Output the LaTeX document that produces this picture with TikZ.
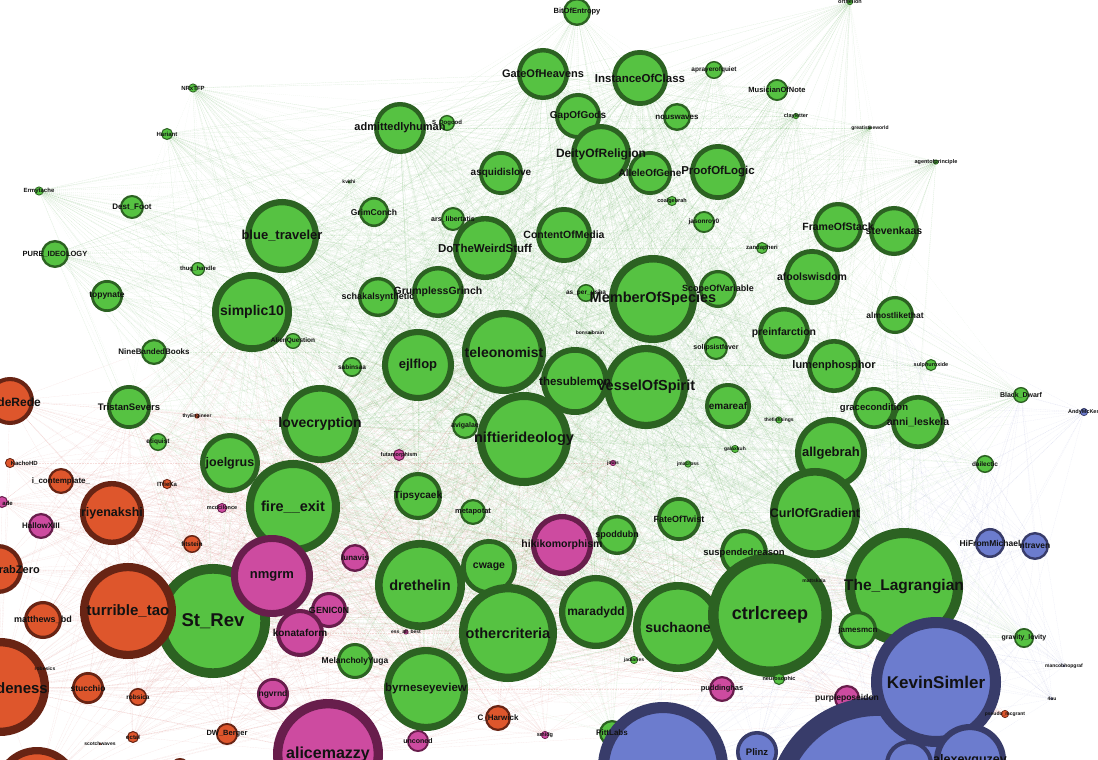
\documentclass[tikz,border=0pt]{standalone}
\usepackage{fontspec}
\setmainfont{Liberation Sans}
\pgfdeclarelayer{bg}\pgfdeclarelayer{fg}\pgfsetlayers{bg,main,fg}
\definecolor{gF}{RGB}{86,194,66}\definecolor{gB}{RGB}{44,98,34}
\definecolor{oF}{RGB}{222,86,44}\definecolor{oB}{RGB}{104,36,20}
\definecolor{pF}{RGB}{205,75,160}\definecolor{pB}{RGB}{104,30,76}
\definecolor{bF}{RGB}{108,124,206}\definecolor{bB}{RGB}{56,60,106}
\definecolor{gE}{RGB}{60,160,50}\definecolor{rE}{RGB}{200,50,40}\definecolor{bE}{RGB}{80,90,190}
\definecolor{txt}{RGB}{18,18,18}
\tikzset{
 base/.style={circle, inner sep=0pt, outer sep=0pt},
 gn/.style={base, draw=gB, fill=gF},
 on/.style={base, draw=oB, fill=oF},
 pn/.style={base, draw=pB, fill=pF},
 bn/.style={base, draw=bB, fill=bF},
 lab/.style={inner sep=0pt, text=txt},
 eg/.style={draw=gE, line width=0.2pt, draw opacity=0.14, dash pattern=on 1pt off 0.6pt},
 ef/.style={draw=gE, line width=0.2pt, draw opacity=0.1, dash pattern=on 1pt off 1pt},
 er/.style={draw=rE, line width=0.2pt, draw opacity=0.16, dash pattern=on 1pt off 0.6pt},
 eb/.style={draw=bE, line width=0.2pt, draw opacity=0.14, dash pattern=on 1pt off 0.8pt},
}
\newcommand\mkn[7]{%
 \pgfmathsetmacro\mklw{max(0.7,0.085*#5)}%
 \pgfmathsetmacro\mkms{max(1,#5-\mklw)}%
 \node[#1, line width=\mklw pt, minimum size=\mkms pt] (#2) at (#3,#4) {};%
 \begin{pgfonlayer}{fg}\node[lab, font=\bfseries\fontsize{#6}{#6}\selectfont] (#2-t) at (#2.center) {#7};\end{pgfonlayer}}
\newcommand\mknx[9]{%
 \pgfmathsetmacro\mklw{max(0.7,0.085*#5)}%
 \pgfmathsetmacro\mkms{max(1,#5-\mklw)}%
 \node[#1, line width=\mklw pt, minimum size=\mkms pt] (#2) at (#3,#4) {};%
 \begin{pgfonlayer}{fg}\node[lab, anchor=east, font=\bfseries\fontsize{#6}{#6}\selectfont] (#2-t) at (#8,#9) {#7};\end{pgfonlayer}}
\begin{document}
\begin{tikzpicture}[x=1pt,y=-1pt]
\useasboundingbox (0,0) rectangle (1098,760);
\begin{pgfonlayer}{bg}\fill[white] (0,0) rectangle (1098,760);\end{pgfonlayer}
% ---------- green ----------
\mkn{gn}{bit}{577}{12}{28}{7.5}{BitOfEntropy}
\mkn{gn}{orth}{850}{2}{6}{5.5}{orthelion}
\mkn{gn}{gate}{543}{74}{52}{11}{GateOfHeavens}
\mkn{gn}{inst}{640}{78}{56}{11.5}{InstanceOfClass}
\mkn{gn}{apray}{714}{70}{18}{6.5}{aprayerofquiet}
\mkn{gn}{music}{777}{90}{22}{7.5}{MusicianOfNote}
\mkn{gn}{clay}{796}{116}{6}{5.5}{clayletter}
\mkn{gn}{great}{870}{128}{3}{5}{greatistheworld}
\mkn{gn}{agent}{936}{162}{5}{5.5}{agentofprinciple}
\mkn{gn}{nrx}{193}{88}{9}{6}{NRxTFP}
\mkn{gn}{hari}{167}{134}{12}{6}{Hariant}
\mkn{gn}{ermy}{39}{191}{9}{6}{Ermytache}
\mkn{gn}{dest}{132}{207}{24}{8}{Dest\_Foot}
\mkn{gn}{pure}{55}{254}{28}{7.5}{PURE\_IDEOLOGY}
\mkn{gn}{admit}{400}{128}{52}{11}{admittedlyhuman}
\mkn{gn}{sdog}{447}{123}{16}{6}{S\_Dogood}
\mkn{gn}{kvit}{349}{182}{3}{5}{kvithi}
\mkn{gn}{grim}{374}{212}{30}{8.5}{GrimConch}
\mkn{gn}{ars}{453}{219}{24}{7}{ars\_libertatis}
\mkn{gn}{blue}{282}{236}{74}{13}{blue\_traveler}
\mkn{gn}{squid}{501}{173}{44}{10}{asquidislove}
\mkn{gn}{gap}{578}{116}{46}{10}{GapOfGods}
\mkn{gn}{nous}{677}{117}{28}{8}{nouswaves}
\mkn{gn}{deity}{601}{154}{60}{12}{DeityOfReligion}
\mkn{gn}{allele}{650}{173}{44}{10}{AlleleOfGene}
\mkn{gn}{proof}{718}{172}{56}{11.5}{ProofOfLogic}
\mkn{gn}{coal}{672}{201}{10}{5.5}{coalgebrah}
\mkn{gn}{jason}{704}{222}{22}{6.5}{jasonroy0}
\mkn{gn}{content}{564}{235}{56}{10.5}{ContentOfMedia}
\mkn{gn}{weird}{485}{248}{64}{11.5}{DoTheWeirdStuff}
\mkn{gn}{frame}{838}{227}{50}{10.5}{FrameOfStack}
\mkn{gn}{steven}{894}{231}{50}{10.5}{stevenkaas}
\mkn{gn}{zand}{762}{248}{12}{6}{zandapheri}
\mkn{gn}{afool}{812}{277}{56}{10.5}{afoolswisdom}
\mkn{gn}{thug}{198}{269}{14}{6}{thug\_handle}
\mkn{gn}{topy}{107}{296}{32}{8.5}{topynate}
\mkn{gn}{simp}{252}{312}{80}{14}{simplic10}
\mkn{gn}{alien}{293}{341}{16}{6.5}{AlienQuestion}
\mkn{gn}{schak}{378}{297}{40}{9}{schakalsynthetic}
\mkn{gn}{grump}{438}{292}{52}{10.5}{GrumplessGrinch}
\mkn{gn}{asper}{586}{293}{18}{6.5}{as\_per\_usha}
\mkn{gn}{member}{653}{299}{88}{14.5}{MemberOfSpecies}
\mkn{gn}{scope}{718}{289}{38}{9}{ScopeOfVariable}
\mkn{gn}{bonsai}{590}{333}{3}{5}{bonsaibrain}
\mkn{gn}{solip}{716}{348}{24}{7}{solipsistfever}
\mkn{gn}{nine}{154}{352}{26}{8}{NineBandedBooks}
\mkn{gn}{sabin}{352}{367}{20}{6.5}{sabinsaa}
\mkn{gn}{ejl}{418}{365}{72}{13}{ejlflop}
\mkn{gn}{tele}{504}{352}{84}{14}{teleonomist}
\mkn{gn}{subl}{575}{381}{68}{11.5}{thesublemon}
\mkn{gn}{vessel}{646}{387}{84}{14.5}{VesselOfSpirit}
\mkn{gn}{prein}{784}{333}{52}{10.5}{preinfarction}
\mkn{gn}{almost}{895}{315}{38}{8.5}{almostlikethat}
\mkn{gn}{lumen}{834}{366}{54}{11}{lumenphosphor}
\mkn{gn}{sulph}{931}{365}{12}{5.5}{sulphuroxide}
\mkn{gn}{emar}{728}{406}{46}{10}{emareaf}
\mkn{gn}{black}{1021}{395}{16}{7}{Black\_Dwarf}
\mkn{gn}{grace}{874}{408}{42}{9.5}{gracecondition}
\mkn{gn}{anni}{918}{422}{54}{10.5}{anni\_leskela}
\mkn{gn}{thefat}{779}{420}{7}{5}{thefishsings}
\mkn{gn}{galax}{735}{449}{8}{5}{galaxkuh}
\mkn{gn}{allg}{831}{453}{72}{13}{allgebrah}
\mkn{gn}{dial}{985}{464}{18}{6.5}{dailectic}
\mkn{gn}{tristan}{129}{407}{44}{9.5}{TristanSevers}
\mkn{gn}{etiq}{158}{442}{18}{6.5}{etiquist}
\mkn{gn}{love}{320}{424}{78}{14}{lovecryption}
\mkn{gn}{joel}{230}{463}{60}{12.5}{joelgrus}
\mkn{gn}{aviga}{465}{426}{26}{7}{avigalae}
\mkn{gn}{nifty}{524}{439}{94}{14.5}{niftierideology}
\mkn{gn}{jmac}{688}{464}{7}{5}{jmacross}
\mkn{gn}{fire}{293}{507}{94}{14.5}{fire\_\_exit}
\mkn{gn}{tipsy}{418}{496}{48}{10}{Tipsycaek}
\mkn{gn}{meta}{473}{512}{26}{7.5}{metapotat}
\mkn{gn}{fate}{679}{519}{44}{9}{FateOfTwist}
\mkn{gn}{spod}{617}{535}{40}{9}{spoddubn}
\mkn{gn}{curl}{815}{513}{90}{12.5}{CurlOfGradient}
\mkn{gn}{susp}{744}{553}{48}{9.5}{suspendedreason}
\mkn{gn}{lagr}{904}{587}{118}{15.5}{The\_Lagrangian}
\mkn{gn}{strev}{213}{621}{114}{18.5}{St\_Rev}
\mkn{gn}{melan}{355}{661}{36}{8.5}{MelancholyYuga}
\mkn{gn}{dreth}{420}{585}{90}{14.5}{drethelin}
\mkn{gn}{cwage}{489}{567}{56}{10.5}{cwage}
\mkn{gn}{other}{508}{633}{98}{14.5}{othercriteria}
\mkn{gn}{mara}{596}{612}{74}{12}{maradydd}
\mkn{gn}{such}{678}{627}{90}{14}{suchaone}
\mkn{gn}{ctrl}{770}{615}{124}{18}{ctrlcreep}
\mkn{gn}{matt}{814}{581}{3}{5}{mattskala}
\mkn{gn}{james}{858}{630}{38}{8}{jamesmcn}
\mkn{gn}{grav}{1024}{638}{20}{7}{gravity\_levity}
\mkn{gn}{neuro}{779}{679}{12}{5.5}{neurosophic}
\mkn{gn}{jadi}{634}{660}{8}{5}{jadiaries}
\mkn{gn}{byrne}{426}{689}{84}{11.5}{byrneseyeview}
\mkn{gn}{pitt}{612}{733}{26}{8}{PittLabs}
% ---------- orange ----------
\mknx{on}{rede}{10}{401}{48}{12}{adeRede}{41}{402}
\mknx{on}{kacho}{10}{463}{10}{6}{KachoHD}{38}{463}
\mkn{on}{icont}{61}{481}{26}{8}{i\_contemplate\_}
\mkn{on}{itfie}{167}{484}{10}{6}{ITfieKa}
\mkn{on}{thyeng}{197}{416}{5}{5}{thyEngineer}
\mkn{on}{riyen}{112}{513}{64}{12.5}{riyenakshi}
\mkn{on}{fitst}{192}{544}{18}{6.5}{fitstein}
\mknx{on}{crab}{-2}{569}{50}{11}{crabZero}{40}{570}
\mkn{on}{turr}{128}{611}{96}{15}{turrible\_tao}
\mkn{on}{matth}{43}{620}{38}{9}{matthews\_bd}
\mknx{on}{denes}{0}{687}{98}{15}{deness}{48}{688}
\mkn{on}{stuc}{88}{688}{32}{8.5}{stucchio}
\mkn{on}{robs}{138}{697}{18}{6.5}{robsica}
\mkn{on}{robes}{45}{669}{2}{5}{robesics}
\mkn{on}{octal}{133}{737}{12}{6}{octal}
\mkn{on}{scotch}{100}{744}{2}{5}{scotchwaves}
\mkn{on}{dwb}{227}{734}{22}{7.5}{DW\_Berger}
\mkn{on}{charw}{498}{718}{26}{8}{C\_Harwick}
\mkn{on}{pseud}{1005}{714}{8}{5}{pseudo\_mcgrant}
\mkn{on}{blo}{37}{790}{86}{12}{}
\mkn{on}{blo2}{180}{768}{20}{6}{}
% ---------- pink ----------
\mkn{pn}{hallow}{41}{526}{26}{8}{HallowXIII}
\mknx{pn}{padE}{2}{502}{12}{6}{ade}{13}{503}
\mkn{pn}{mcdc}{222}{508}{10}{5.5}{mcdcilonce}
\mkn{pn}{futa}{399}{455}{12}{5.5}{futamorphism}
\mkn{pn}{jouis}{613}{463}{6}{5}{jouis}
\mkn{pn}{luna}{355}{558}{28}{8}{lunavis}
\mkn{pn}{nmgrm}{272}{576}{82}{13}{nmgrm}
\mkn{pn}{genic}{329}{610}{36}{9}{GENIC0N}
\mkn{pn}{konat}{300}{633}{48}{10}{konataform}
\mkn{pn}{hiki}{562}{545}{62}{10.5}{hikikomorphism}
\mkn{pn}{ess}{406}{632}{5}{5}{ess\_all\_best}
\mkn{pn}{ngv}{273}{694}{32}{8.5}{ngvrnd}
\mkn{pn}{alice}{328}{754}{110}{16}{alicemazzy}
\mkn{pn}{uncon}{418}{741}{22}{7}{unconed}
\mkn{pn}{smidg}{545}{735}{8}{5.5}{smidg}
\mkn{pn}{pudd}{722}{689}{26}{7.5}{puddinghas}
\mkn{pn}{purp}{847}{698}{26}{8.5}{purpleposeidon}
% ---------- blue ----------
\mkn{bn}{hifrom}{990}{543}{30}{8.5}{HiFromMichael}
\mkn{bn}{ntra}{1035}{546}{28}{8.5}{ntraven}
\mkn{bn}{andy}{1084}{412}{8}{5.5}{AndyMcKen}
\mkn{bn}{mancob}{1064}{666}{2}{5}{mancobhopgraf}
\mkn{bn}{fourou}{1052}{699}{2}{5}{4ou}
\mkn{bn}{bb2}{878}{808}{222}{12}{}
\mkn{bn}{kevin}{936}{682}{130}{17}{KevinSimler}
\mkn{bn}{bb1}{663}{767}{130}{12}{}
\mkn{bn}{plinz}{757}{752}{42}{9.5}{Plinz}
\mkn{bn}{bb3}{909}{764}{48}{9}{}
\mkn{bn}{alexey}{970}{760}{72}{12.5}{alexeyguzey}
% ---------- connectors ----------
\begin{pgfonlayer}{bg}
\foreach \a in {bit,orth,gate,inst,apray,music,clay,great,agent,nrx,hari,ermy,dest,pure,admit,sdog,kvit,grim,ars,blue,squid,gap,nous,deity,allele,proof,coal,jason,content,weird,frame,steven,zand,afool,thug,topy,simp,alien,schak,grump,asper,member,scope,bonsai,solip,nine,sabin,ejl,tele,subl,vessel,prein,almost,lumen,sulph,emar,black,grace,anni,thefat,galax,allg,dial,tristan,etiq,love,joel,aviga,nifty,jmac,fire,tipsy,meta,fate,spod,susp,curl,lagr,strev,melan,dreth,cwage,other,mara,such,ctrl,matt,james,grav,neuro,jadi,byrne,pitt}
 {\foreach \b in {blue,simp,love,fire,strev,dreth,other,such,ctrl,lagr,curl,allg,nifty,tele,vessel,member,ejl,byrne,mara,deity,gate,inst,admit,weird}
  {\ifx\a\b\else\draw[eg] (\a) -- (\b);\fi}}
\foreach \a in {nrx,bit,orth,agent,great,ermy,hari,pure,music,apray,black,clay}
 {\foreach \b in {blue,simp,love,fire,strev,dreth,other,such,ctrl,lagr,curl,allg,nifty,tele,vessel,member,ejl,byrne,mara,deity,gate,inst,admit,weird,squid,gap,content,proof,frame,steven,afool,prein,lumen,grace,anni,grump,schak,topy,tristan,joel,subl,emar,cwage}
  {\ifx\a\b\else\draw[ef] (\a) -- (\b);\fi}}
\foreach \a in {rede,kacho,icont,itfie,thyeng,riyen,fitst,crab,turr,matth,denes,stuc,robs,octal,dwb,charw,pseud,blo,hallow,padE,mcdc,futa,jouis,luna,nmgrm,genic,konat,hiki,ngv,alice,uncon,smidg,pudd,purp,ess}
 {\foreach \b in {strev,turr,nmgrm,alice,fire,other,dreth,riyen,denes,love,joel,such,ctrl,nifty,hiki,byrne,simp,tele,tristan,lagr}
  {\ifx\a\b\else\draw[er] (\a) -- (\b);\fi}}
\foreach \a in {hifrom,ntra,andy,kevin,bb1,bb2,plinz,alexey,bb3,mancob,fourou}
 {\foreach \b in {kevin,lagr,ctrl,bb2,bb1,such,curl,anni,grace,allg,black,dial,grav,almost,james,member,vessel}
  {\ifx\a\b\else\draw[eb] (\a) -- (\b);\fi}}
\end{pgfonlayer}
\end{tikzpicture}
\end{document}
